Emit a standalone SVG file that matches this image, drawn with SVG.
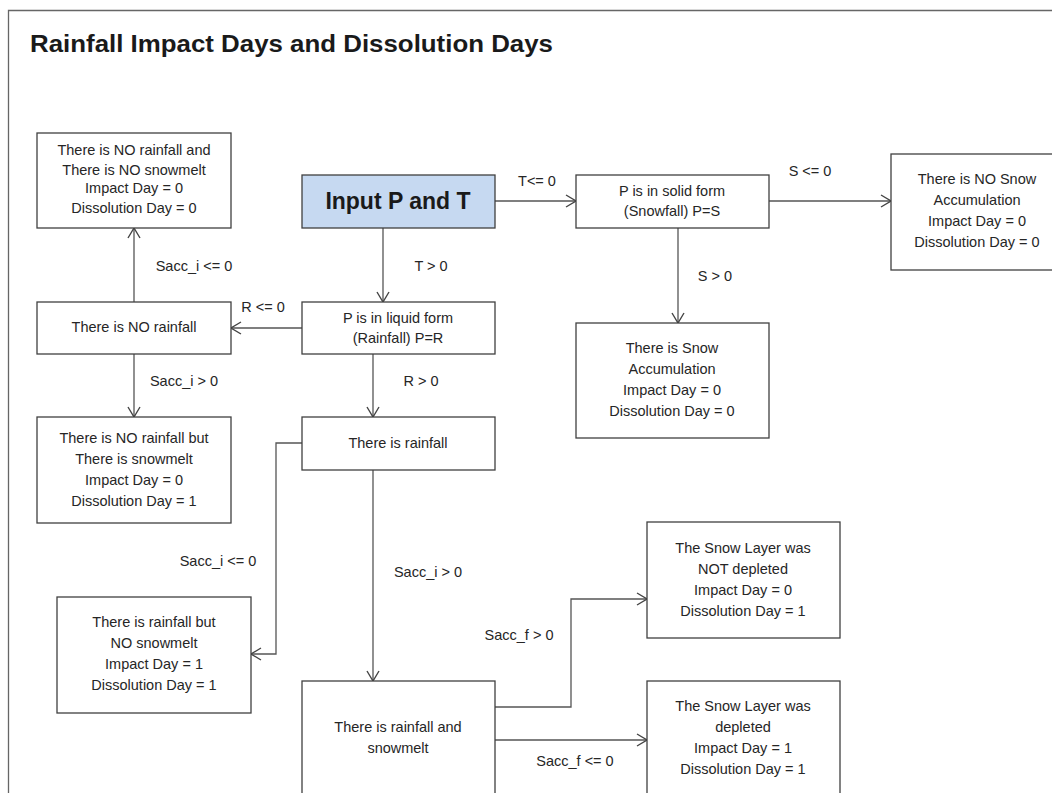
<svg xmlns="http://www.w3.org/2000/svg" width="1052" height="793" viewBox="0 0 1052 793">
<style>
.box{fill:#ffffff;stroke:#404040;stroke-width:1.3}
.inp{fill:#c6d9f1;stroke:#404040;stroke-width:1.3}
.t{font-family:"Liberation Sans",Arial,sans-serif;font-size:14.5px;fill:#262626;text-anchor:middle}
.lbl{font-family:"Liberation Sans",Arial,sans-serif;font-size:14.5px;fill:#262626;text-anchor:middle}
.ln{fill:none;stroke:#555555;stroke-width:1.3}
</style>
<defs>
<marker id="arr" viewBox="0 0 12 14" refX="11" refY="7" markerWidth="12" markerHeight="14" markerUnits="userSpaceOnUse" orient="auto">
<path d="M1,1 L11,7 L1,13" fill="none" stroke="#444444" stroke-width="1.4"/>
</marker>
</defs>
<rect x="0" y="0" width="1052" height="793" fill="#ffffff"/>
<path d="M8.5,800 V10.5 H1060" fill="none" stroke="#666666" stroke-width="1.3"/>
<text x="30" y="52" font-family="Liberation Sans,Arial,sans-serif" font-weight="bold" font-size="24" fill="#1a1a1a" textLength="523" lengthAdjust="spacingAndGlyphs">Rainfall Impact Days and Dissolution Days</text>

<g id="connectors">
<path class="ln" d="M495,201 H576" marker-end="url(#arr)"/>
<path class="ln" d="M383,228 V302" marker-end="url(#arr)"/>
<path class="ln" d="M302,328 H231" marker-end="url(#arr)"/>
<path class="ln" d="M134,302 V228" marker-end="url(#arr)"/>
<path class="ln" d="M134,354 V417" marker-end="url(#arr)"/>
<path class="ln" d="M373,354 V417" marker-end="url(#arr)"/>
<path class="ln" d="M769,201 H891" marker-end="url(#arr)"/>
<path class="ln" d="M678,228 V323" marker-end="url(#arr)"/>
<path class="ln" d="M302,443 H276 V654 H251" marker-end="url(#arr)"/>
<path class="ln" d="M373,470 V681" marker-end="url(#arr)"/>
<path class="ln" d="M495,707 H571 V599 H647" marker-end="url(#arr)"/>
<path class="ln" d="M495,740 H647" marker-end="url(#arr)"/>
<text class="lbl" x="537" y="186">T&lt;= 0</text>
<text class="lbl" x="431" y="271">T &gt; 0</text>
<text class="lbl" x="263" y="312">R &lt;= 0</text>
<text class="lbl" x="194" y="271">Sacc_i &lt;= 0</text>
<text class="lbl" x="184" y="386">Sacc_i &gt; 0</text>
<text class="lbl" x="421" y="386">R &gt; 0</text>
<text class="lbl" x="810" y="176">S &lt;= 0</text>
<text class="lbl" x="715" y="281">S &gt; 0</text>
<text class="lbl" x="218" y="566">Sacc_i &lt;= 0</text>
<text class="lbl" x="428" y="577">Sacc_i &gt; 0</text>
<text class="lbl" x="519" y="640">Sacc_f &gt; 0</text>
<text class="lbl" x="575" y="766">Sacc_f &lt;= 0</text>
</g>

<g id="no-rain-no-melt">
<rect class="box" x="37" y="133" width="194" height="95"/>
<text class="t" x="134" y="155">There is NO rainfall and</text>
<text class="t" x="134" y="175">There is NO snowmelt</text>
<text class="t" x="134" y="193">Impact Day = 0</text>
<text class="t" x="134" y="213">Dissolution Day = 0</text>
</g>

<g id="no-rain">
<rect class="box" x="37" y="302" width="194" height="52"/>
<text class="t" x="134" y="332">There is NO rainfall</text>
</g>

<g id="no-rain-melt">
<rect class="box" x="37" y="417" width="194" height="106"/>
<text class="t" x="134" y="443">There is NO rainfall but</text>
<text class="t" x="134" y="464">There is snowmelt</text>
<text class="t" x="134" y="485">Impact Day = 0</text>
<text class="t" x="134" y="506">Dissolution Day = 1</text>
</g>

<g id="input">
<rect class="inp" x="302" y="175" width="193" height="53"/>
<text x="398" y="209" font-family="Liberation Sans,Arial,sans-serif" font-weight="bold" font-size="23" fill="#1a1a1a" text-anchor="middle">Input P and T</text>
</g>

<g id="liquid">
<rect class="box" x="302" y="302" width="193" height="52"/>
<text class="t" x="398" y="323">P is in liquid form</text>
<text class="t" x="398" y="343">(Rainfall) P=R</text>
</g>

<g id="solid">
<rect class="box" x="576" y="175" width="193" height="53"/>
<text class="t" x="672" y="196">P is in solid form</text>
<text class="t" x="672" y="216">(Snowfall) P=S</text>
</g>

<g id="no-snow-acc">
<rect class="box" x="891" y="154" width="175" height="116"/>
<text class="t" x="977" y="184">There is NO Snow</text>
<text class="t" x="977" y="205">Accumulation</text>
<text class="t" x="977" y="226">Impact Day = 0</text>
<text class="t" x="977" y="247">Dissolution Day = 0</text>
</g>

<g id="snow-acc">
<rect class="box" x="576" y="323" width="193" height="115"/>
<text class="t" x="672" y="353">There is Snow</text>
<text class="t" x="672" y="374">Accumulation</text>
<text class="t" x="672" y="395">Impact Day = 0</text>
<text class="t" x="672" y="416">Dissolution Day = 0</text>
</g>

<g id="rain">
<rect class="box" x="302" y="417" width="193" height="53"/>
<text class="t" x="398" y="448">There is rainfall</text>
</g>

<g id="rain-no-melt">
<rect class="box" x="57" y="597" width="194" height="116"/>
<text class="t" x="154" y="627">There is rainfall but</text>
<text class="t" x="154" y="648">NO snowmelt</text>
<text class="t" x="154" y="669">Impact Day = 1</text>
<text class="t" x="154" y="690">Dissolution Day = 1</text>
</g>

<g id="rain-melt">
<rect class="box" x="302" y="681" width="193" height="130"/>
<text class="t" x="398" y="732">There is rainfall and</text>
<text class="t" x="398" y="753">snowmelt</text>
</g>

<g id="not-depleted">
<rect class="box" x="647" y="522" width="193" height="116"/>
<text class="t" x="743" y="553">The Snow Layer was</text>
<text class="t" x="743" y="574">NOT depleted</text>
<text class="t" x="743" y="595">Impact Day = 0</text>
<text class="t" x="743" y="616">Dissolution Day = 1</text>
</g>

<g id="depleted">
<rect class="box" x="647" y="681" width="193" height="130"/>
<text class="t" x="743" y="711">The Snow Layer was</text>
<text class="t" x="743" y="732">depleted</text>
<text class="t" x="743" y="753">Impact Day = 1</text>
<text class="t" x="743" y="774">Dissolution Day = 1</text>
</g>
</svg>
